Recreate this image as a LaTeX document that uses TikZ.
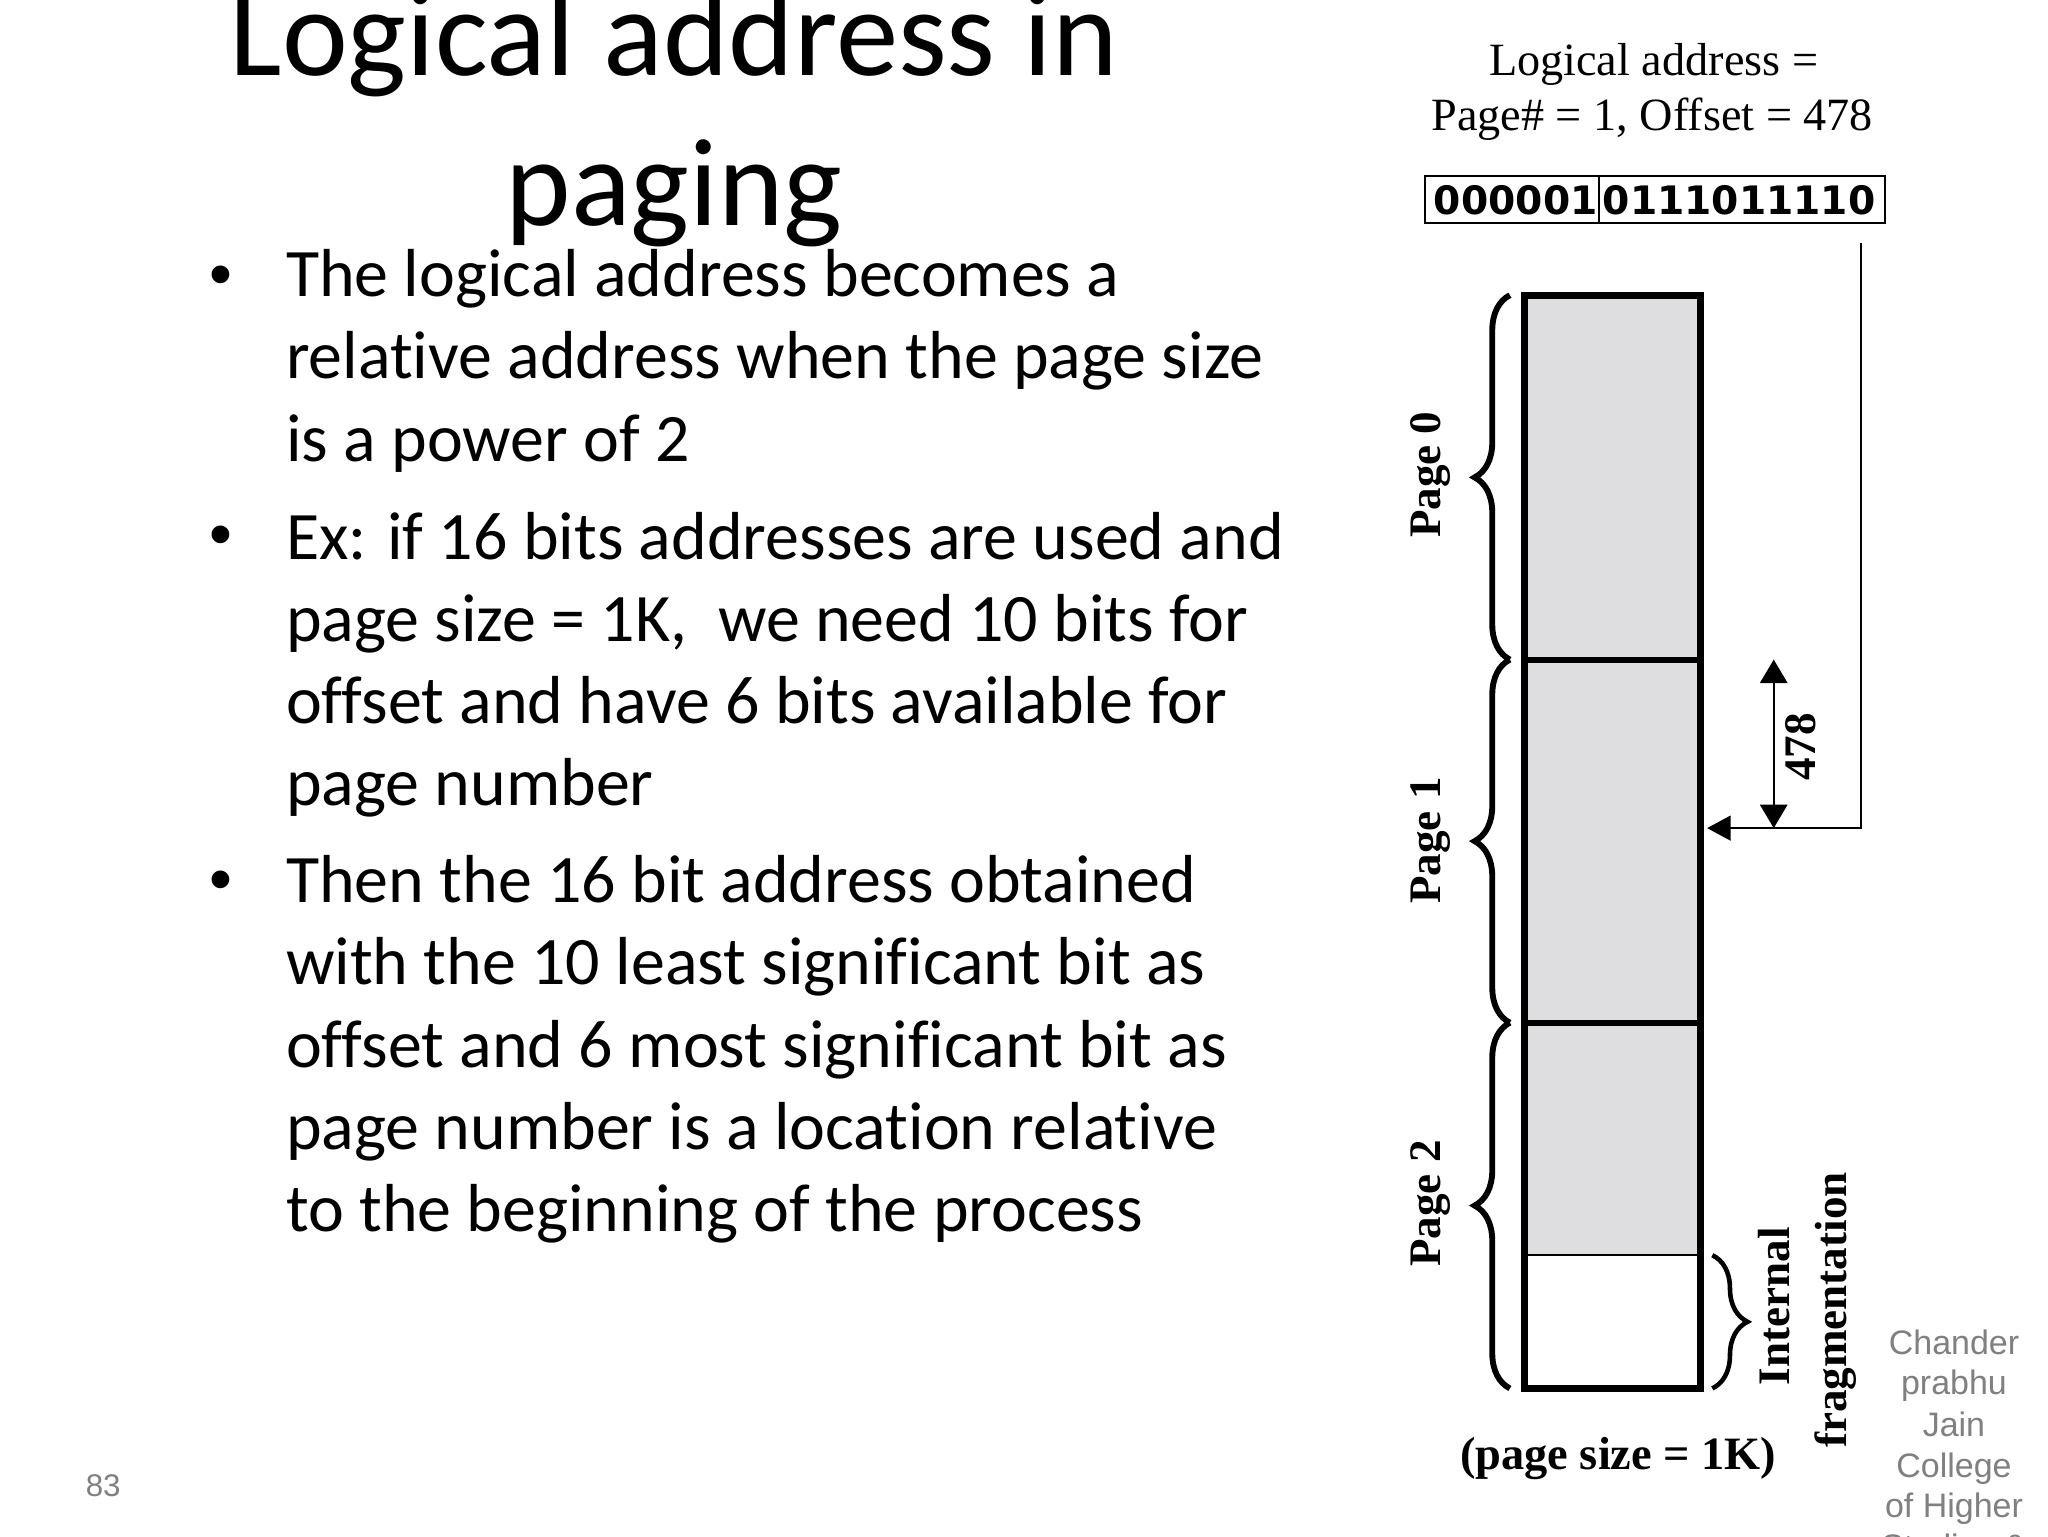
\documentclass[tikz,border=0pt]{standalone}
\usepackage{fontspec}
\setmainfont[Ligatures=CommonOff]{Carlito}
\newfontfamily\figfont{Liberation Serif}
\newfontfamily\notefont{Liberation Sans}
\newfontfamily\bitfont{DejaVu Sans}
\usetikzlibrary{arrows.meta,decorations.pathreplacing}
\definecolor{pagegray}{HTML}{DEDEE0}
\definecolor{notegray}{HTML}{808080}
\tikzset{
  every node/.style={inner sep=0pt,outer sep=0pt},
  titletext/.style={font=\fontsize{95.5}{95.5}\selectfont,anchor=base},
  bodytext/.style={font=\fontsize{52}{52}\selectfont,anchor=base west},
  bullet/.style={font=\notefont\fontsize{50}{50}\selectfont,anchor=base},
  figtext/.style={font=\figfont\fontsize{35.4}{35.4}\selectfont,anchor=base},
  figlabel/.style={font=\figfont\bfseries\fontsize{34.5}{34.5}\selectfont,anchor=base},
  bitbox/.style={draw,line width=1.4pt,minimum height=36pt,font=\bitfont\bfseries\fontsize{30}{30}\selectfont},
  pagebox/.style={minimum width=135pt,fill=pagegray},
  pagebrace/.style={line width=4.5pt,decorate,decoration={brace,amplitude=27pt,aspect=.5}},
  notetext/.style={font=\notefont\fontsize{26}{26}\selectfont,text=notegray,anchor=base},
  pointer/.style={line width=1.5pt,-{Triangle[length=18pt,width=19pt]}}
}
\begin{document}
\begin{tikzpicture}[x=1pt,y=-1pt]
  \useasboundingbox (0,0) rectangle (1568,1176);

  % title
  \node[titletext] (title1) at (516,58)  {Logical address in};
  \node[titletext] (title2) at (516,173) {paging};

  % bullets and lines of text
  \node[bullet] (b1) at (169,227) {•};
  \node[bullet] (b2) at (169,426) {•};
  \node[bullet] (b3) at (169,690) {•};
  \begin{scope}[every node/.append style={bodytext}]
    \node (l1)  at (219,227) {The logical address becomes a};
    \node (l2)  at (219,290) {relative address when the page size};
    \node (l3)  at (219,353) {is a power of 2};
    \node (l4)  at (219,428) {Ex: if 16 bits addresses are used and};
    \node (l5)  at (219,491) {page size = 1K,\ \ we need 10 bits for};
    \node (l6)  at (219,554) {offset and have 6 bits available for};
    \node (l7)  at (219,617) {page number};
    \node (l8)  at (219,691) {Then the 16 bit address obtained};
    \node (l9)  at (219,754) {with the 10 least significant bit as};
    \node (l10) at (219,817) {offset and 6 most significant bit as};
    \node (l11) at (219,880) {page number is a location relative};
    \node (l12) at (219,943) {to the beginning of the process};
  \end{scope}

  % logical address
  \node[figtext] (addr1) at (1266,58)  {Logical address =};
  \node[figtext] (addr2) at (1265,100) {Page\# = 1, Offset = 478};
  \node[bitbox,minimum width=133pt] (pagebits)   at (1157.5,153) {\hspace*{6pt}000001};
  \node[bitbox,minimum width=219pt] (offsetbits) at (1333.5,153) {0111011110\hspace*{4pt}};

  % pages
  \node[pagebox,minimum height=279pt] (page0) at (1234.5,365.5) {};
  \node[pagebox,minimum height=278pt] (page1) at (1234.5,644)   {};
  \node[pagebox,minimum height=178pt] (page2) at (1234.5,872)   {};
  \node[pagebox,minimum height=102pt,fill=white] (slack) at (1234.5,1012) {};
  \draw[line width=1.5pt] (slack.north west) -- (slack.north east);
  \draw[line width=4.5pt] (page0.south west) -- (page0.south east);
  \draw[line width=4.5pt] (page1.south west) -- (page1.south east);
  \draw[line width=5.5pt] (page0.north west) rectangle (slack.south east);

  % braces
  \draw[pagebrace] ([xshift=-11pt]page0.south west) -- ([xshift=-11pt]page0.north west);
  \draw[pagebrace] ([xshift=-11pt]page1.south west) -- ([xshift=-11pt]page1.north west);
  \draw[pagebrace] ([xshift=-11pt]slack.south west) -- ([xshift=-11pt]page2.north west);
  \draw[pagebrace,line width=3.5pt] ([xshift=9pt]slack.north east) -- ([xshift=9pt]slack.south east);

  \begin{scope}[every node/.append style={figlabel,rotate=90}]
    \node (label0) at (1103,363.5) {Page 0};
    \node (label1) at (1103,643.5) {Page 1};
    \node (label2) at (1103,921.5) {Page 2};
    \node (size)   at (1390,572)   {478};
    \node (frag1)  at (1370,1000)  {Internal};
    \node (frag2)  at (1414,1003)  {fragmentation};
  \end{scope}
  \node[figlabel,font=\figfont\bfseries\fontsize{35.5}{35.5}\selectfont] (pagesize) at (1239,1125) {(page size = 1K)};

  % offset pointer
  \coordinate (ptrstart) at (1425,186);
  \coordinate (ptrbend)  at (1425,634);
  \coordinate (ptrend)   at (1307,634);
  \coordinate (dimtop)   at (1358,505);
  \coordinate (dimbot)   at (1358,634);
  \draw[pointer] (ptrstart) -- (ptrbend) -- (ptrend);
  \draw[pointer,{Triangle[length=18pt,width=21pt]}-{Triangle[length=18pt,width=21pt]}] (dimtop) -- (dimbot);

  % footer
  \node[notetext] (note1) at (1496,1037) {Chander};
  \node[notetext] (note2) at (1496,1068) {prabhu};
  \node[notetext] (note3) at (1496,1100) {Jain};
  \node[notetext] (note4) at (1496,1131) {College};
  \node[notetext] (note5) at (1496,1162) {of Higher};
  \node[notetext] (note6) at (1496,1193) {Studies \&};
  \node[notetext,font=\notefont\fontsize{24}{24}\selectfont] (pagenum) at (79,1146) {83};
\end{tikzpicture}
\end{document}
